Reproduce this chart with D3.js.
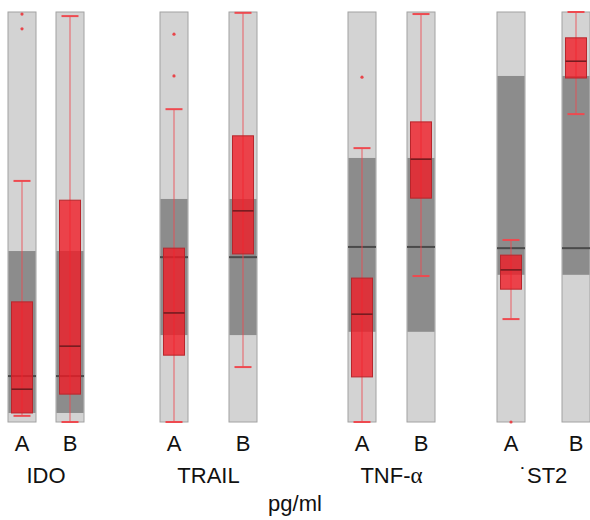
<!DOCTYPE html>
<html>
<head>
<meta charset="utf-8">
<script src="https://cdn.jsdelivr.net/npm/d3@7"></script>
<style>
  body { margin: 0; background: #fff; }
  text { font-family: "Liberation Sans", Arial, sans-serif; fill: #111; }
</style>
</head>
<body>
<div id="chart"></div>
<script>
// markers and groups
var markers = ["IDO", "TRAIL", "TNF-α", "ST2"];
var groups = ["A", "B"];

// reference range (grey band) per marker, relative units 0-100
var refQ1 = [2.2, 21.2, 22.0, 35.9];
var refMedian = [11.2, 40.2, 42.7, 42.4];
var refQ3 = [41.7, 54.4, 64.4, 84.4];

// box plots, order: IDO A, IDO B, TRAIL A, TRAIL B, TNF A, TNF B, ST2 A, ST2 B
var whiskLow = [1.5, 0, 0, 13.4, 0, 35.6, 25.1, 75.1];
var boxQ1 = [2.2, 6.8, 16.3, 41.0, 11.0, 54.6, 32.4, 83.9];
var boxMedian = [8.0, 18.5, 26.6, 51.5, 26.3, 64.1, 37.1, 88.0];
var boxQ3 = [29.3, 54.1, 42.4, 69.8, 35.1, 73.2, 40.7, 93.7];
var whiskHigh = [58.8, 99.0, 76.3, 99.8, 66.8, 99.5, 44.4, 100];
var outliers = [[99.5, 95.9], [], [94.6, 84.4], [], [84.1], [], [0], []];

var width = 590, height = 520;

var svg = d3.select("#chart").append("svg")
    .attr("width", width)
    .attr("height", height);

// build column list
var columns = [];
markers.forEach(function(m, i) {
    groups.forEach(function(g, j) {
        var k = i * 2 + j;
        columns.push({
            key: m + "-" + g, marker: m, group: g, mi: i,
            low: whiskLow[k], q1: boxQ1[k], med: boxMedian[k], q3: boxQ3[k],
            high: whiskHigh[k], out: outliers[k]
        });
    });
});

// scales
var y = d3.scaleLinear().domain([0, 100]).range([422, 12]);
var x = d3.scaleOrdinal()
    .domain(columns.map(function(d) { return d.key; }))
    .range([8, 56, 160, 229, 348, 407, 497, 562]);
var colW = 28;
var boxW = 21;
var capW = 17;

var col = svg.selectAll("g.col")
    .data(columns)
    .enter()
    .append("g")
    .attr("class", "col")
    .attr("transform", function(d) { return "translate(" + x(d.key) + ",0)"; });

// light grey column
col.append("rect")
    .attr("x", 0)
    .attr("y", y(100))
    .attr("width", colW)
    .attr("height", y(0) - y(100))
    .attr("fill", "#d3d3d3")
    .attr("stroke", "#a2a2a2")
    .attr("stroke-width", 1);

// dark reference band
col.append("rect")
    .attr("x", 0.5)
    .attr("y", function(d) { return y(refQ3[d.mi]); })
    .attr("width", colW - 1)
    .attr("height", function(d) { return y(refQ1[d.mi]) - y(refQ3[d.mi]); })
    .attr("fill", "#8c8c8c");

// reference median
col.append("line")
    .attr("x1", 0)
    .attr("x2", colW)
    .attr("y1", function(d) { return y(refMedian[d.mi]); })
    .attr("y2", function(d) { return y(refMedian[d.mi]); })
    .attr("stroke", "#4a4a4a")
    .attr("stroke-width", 2);

// whisker
col.append("line")
    .attr("x1", colW / 2)
    .attr("x2", colW / 2)
    .attr("y1", function(d) { return y(d.low); })
    .attr("y2", function(d) { return y(d.high); })
    .attr("stroke", "#ee4a50")
    .attr("stroke-opacity", 0.85)
    .attr("stroke-width", 1);

// caps
["low", "high"].forEach(function(k) {
    col.append("line")
        .attr("x1", (colW - capW) / 2)
        .attr("x2", (colW + capW) / 2)
        .attr("y1", function(d) { return y(d[k]); })
        .attr("y2", function(d) { return y(d[k]); })
        .attr("stroke", "#ee4a50")
        .attr("stroke-width", 2);
});

// box
col.append("rect")
    .attr("x", (colW - boxW) / 2)
    .attr("y", function(d) { return y(d.q3); })
    .attr("width", boxW)
    .attr("height", function(d) { return y(d.q1) - y(d.q3); })
    .attr("fill", "#f21a24")
    .attr("fill-opacity", 0.78)
    .attr("stroke", "#b8262c")
    .attr("stroke-width", 1);

// box median
col.append("line")
    .attr("x1", (colW - boxW) / 2)
    .attr("x2", (colW + boxW) / 2)
    .attr("y1", function(d) { return y(d.med); })
    .attr("y2", function(d) { return y(d.med); })
    .attr("stroke", "#6e1a1e")
    .attr("stroke-width", 1.5);

// outliers
col.selectAll("circle.out")
    .data(function(d) { return d.out; })
    .enter()
    .append("circle")
    .attr("class", "out")
    .attr("cx", colW / 2)
    .attr("cy", function(d) { return y(d); })
    .attr("r", 1.6)
    .attr("fill", "#e8454a");

// A / B labels
col.append("text")
    .attr("x", colW / 2)
    .attr("y", 451)
    .attr("text-anchor", "middle")
    .style("font-size", "22px")
    .text(function(d) { return d.group; });

// marker labels
var markerLabels = ["IDO", "TRAIL", "TNF-", "˙ST2"];
var mk = svg.selectAll("text.marker")
    .data(markers)
    .enter()
    .append("text")
    .attr("class", "marker")
    .attr("x", function(d) {
        return (x(d + "-A") + x(d + "-B") + colW) / 2;
    })
    .attr("y", 483)
    .attr("text-anchor", "middle")
    .style("font-size", "22px")
    .text(function(d, i) { return markerLabels[i]; });

mk.filter(function(d) { return d === "TNF-α"; })
    .append("tspan")
    .style("font-family", "'Liberation Serif', serif")
    .style("font-size", "23px")
    .text("α");

// unit label
svg.append("text")
    .attr("x", 295)
    .attr("y", 511)
    .attr("text-anchor", "middle")
    .style("font-size", "22px")
    .text("pg/ml");
</script>
</body>
</html>
